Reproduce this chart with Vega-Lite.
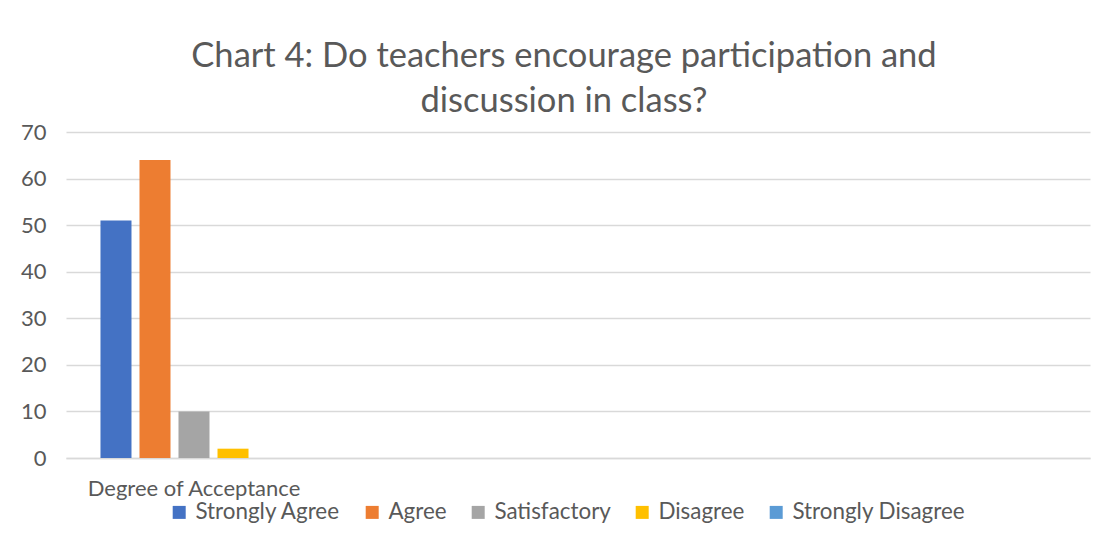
{
  "$schema": "https://vega.github.io/schema/vega-lite/v6.json",
  "width": 1024,
  "height": 326,
  "autosize": "none",
  "padding": {"left": 66, "top": 132, "right": 20, "bottom": 88},
  "background": "white",
  "title": {
    "text": ["Chart 4: Do teachers encourage participation and", "discussion in class?"],
    "fontSize": 34.5,
    "font": "Lato, sans-serif",
    "fontWeight": "normal",
    "color": "#595959",
    "lineHeight": 45,
    "dx": -14,
    "offset": 2
  },
  "data": {
    "values": [
      {"category": "Degree of Acceptance", "series": "Strongly Agree", "value": 51},
      {"category": "Degree of Acceptance", "series": "Agree", "value": 64},
      {"category": "Degree of Acceptance", "series": "Satisfactory", "value": 10},
      {"category": "Degree of Acceptance", "series": "Disagree", "value": 2},
      {"category": "Degree of Acceptance", "series": "Strongly Disagree", "value": 0}
    ]
  },
  "mark": {"type": "bar"},
  "encoding": {
    "x": {
      "field": "category",
      "type": "nominal",
      "scale": {"domain": ["Degree of Acceptance", "c2", "c3", "c4"], "paddingInner": 0, "paddingOuter": 0},
      "axis": {
        "title": null,
        "labelAngle": 0,
        "labelLimit": 0,
        "labelExpr": "datum.value == 'Degree of Acceptance' ? datum.value : ''",
        "labelFontSize": 22,
        "labelFont": "Lato, sans-serif",
        "labelColor": "#595959",
        "labelPadding": 20,
        "ticks": false,
        "domainColor": "#D9D9D9",
        "domainWidth": 1.5
      }
    },
    "xOffset": {
      "field": "series",
      "type": "nominal",
      "sort": ["Strongly Agree", "Agree", "Satisfactory", "Disagree", "Strongly Disagree"],
      "scale": {"paddingInner": 0.205, "paddingOuter": 0.884}
    },
    "y": {
      "field": "value",
      "type": "quantitative",
      "scale": {"domain": [0, 70]},
      "axis": {
        "title": null,
        "values": [0, 10, 20, 30, 40, 50, 60, 70],
        "labelFontSize": 22,
        "labelFont": "Lato, sans-serif",
        "labelColor": "#595959",
        "labelPadding": 20,
        "ticks": false,
        "domain": false,
        "gridColor": "#D9D9D9",
        "gridWidth": 1.5
      }
    },
    "color": {
      "field": "series",
      "type": "nominal",
      "sort": ["Strongly Agree", "Agree", "Satisfactory", "Disagree", "Strongly Disagree"],
      "scale": {
        "domain": ["Strongly Agree", "Agree", "Satisfactory", "Disagree", "Strongly Disagree"],
        "range": ["#4472C4", "#ED7D31", "#A5A5A5", "#FFC000", "#5B9BD5"]
      },
      "legend": {
        "title": null,
        "orient": "none",
        "legendX": 102,
        "legendY": 369,
        "direction": "horizontal",
        "symbolType": "square",
        "symbolSize": 169,
        "symbolStrokeWidth": 0,
        "labelFontSize": 22.4,
        "labelLimit": 0,
        "labelFont": "Lato, sans-serif",
        "labelColor": "#595959",
        "labelOffset": 5,
        "columnPadding": 20
      }
    }
  },
  "config": {
    "view": {"stroke": null}
  }
}
